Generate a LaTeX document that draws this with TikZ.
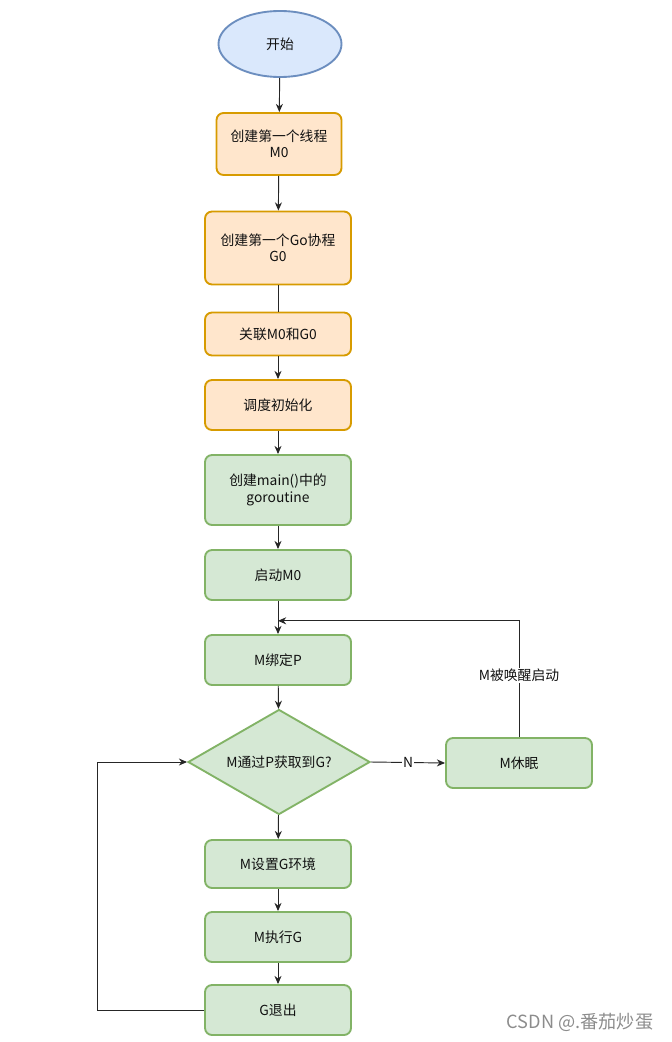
\documentclass[tikz,border=0pt]{standalone}
\usepackage{fontspec}
\setmainfont{Noto Sans CJK SC}
\usepackage{tikz}
\usetikzlibrary{shapes.geometric, arrows.meta, positioning, calc}
\usepackage{xcolor}
\definecolor{cBlueFill}{HTML}{DAE8FC}
\definecolor{cBlueLine}{HTML}{6C8EBF}
\definecolor{cOrangeFill}{HTML}{FFE6CC}
\definecolor{cOrangeLine}{HTML}{D79B00}
\definecolor{cGreenFill}{HTML}{D5E8D4}
\definecolor{cGreenLine}{HTML}{82B366}
\definecolor{cText}{HTML}{111111}
\tikzset{
  flowbox/.style={
    draw=#1Line, fill=#1Fill, rounded corners=6pt,
    minimum width=43.8mm, line width=1.6pt,
    font=\fontsize{11.8}{14}\selectfont, text=cText,
    align=center,
  },
  startnode/.style={
    draw=cBlueLine, fill=cBlueFill, ellipse,
    minimum width=36.9mm, minimum height=19.8mm, line width=1.6pt,
    font=\fontsize{11.8}{14}\selectfont, text=cText,
  },
  decisionnode/.style={
    draw=cGreenLine, fill=cGreenFill, diamond, aspect=1.73,
    minimum width=54.6mm, minimum height=31.5mm, inner sep=0pt,
    line width=1.6pt, font=\fontsize{11.8}{14}\selectfont, text=cText,
  },
  arw/.style={-{Stealth[length=7pt, width=6pt]}, line width=0.8pt, color=black!85},
  plain/.style={line width=0.8pt, color=black!85},
  edgelabel/.style={fill=white, inner sep=1pt, font=\fontsize{11.8}{14}\selectfont, text=cText},
}

\begin{document}
\begin{tikzpicture}[x=0.3mm, y=-0.3mm]
  \useasboundingbox (0,0) rectangle (671,1042);

  \node[startnode] (start) at (280,44) {开始};

  % init phase
  \node[flowbox=cOrange, minimum width=37.5mm, minimum height=18.6mm] (mzero) at (279,144) {创建第一个线程\\M0};
  \node[flowbox=cOrange, minimum height=21.9mm] (gzero) at (278,248) {创建第一个Go协程\\G0};
  \node[flowbox=cOrange, minimum height=12.9mm] (link) at (278,334) {关联M0和G0};
  \node[flowbox=cOrange, minimum height=15mm] (sched) at (278,405) {调度初始化};

  % run phase
  \node[flowbox=cGreen, minimum height=21mm] (maing) at (278,490) {创建main()中的\\goroutine};
  \node[flowbox=cGreen, minimum height=15mm] (startm) at (278,575) {启动M0};
  \node[flowbox=cGreen, minimum height=15mm] (bind) at (278,660) {M绑定P};
  \node[decisionnode] (getg) at (279,762) {M通过P获取到G?};
  \node[flowbox=cGreen, minimum height=15mm] (sleep) at (519,763) {M休眠};
  \node[flowbox=cGreen, minimum height=14.4mm] (setenv) at (278,864) {M设置G环境};
  \node[flowbox=cGreen, minimum height=15mm] (exec) at (278,937) {M执行G};
  \node[flowbox=cGreen, minimum height=15mm] (gexit) at (278,1010) {G退出};

  \coordinate (wake) at ($(startm.south)!0.6!(bind.north)$);
  \coordinate (loopc) at (97,1010);

  \draw[arw] (start) -- (mzero);
  \draw[arw] (mzero) -- (gzero);
  \draw[plain] (gzero) -- (link);
  \draw[arw] (link) -- (sched);
  \draw[arw] (sched) -- (maing);
  \draw[arw] (maing) -- (startm);
  \draw[arw] (startm) -- (bind);
  \draw[arw] (bind) -- (getg);
  \draw[arw] (getg) -- (setenv);
  \draw[arw] (setenv) -- (exec);
  \draw[arw] (exec) -- (gexit);

  % no G: sleep, then wake up
  \draw[arw] (getg.east) -- node[edgelabel] {N} (sleep.west);
  \draw[arw] (sleep.north) |- node[edgelabel, pos=0.265] {M被唤醒启动} (wake);

  % back to the decision
  \draw[arw] (gexit.west) -- (loopc) |- (getg.west);

  \node[font=\fontsize{15.5}{18}\selectfont, text=black!45] (mark) at (580,1022) {CSDN @.番茄炒蛋};
\end{tikzpicture}
\end{document}
